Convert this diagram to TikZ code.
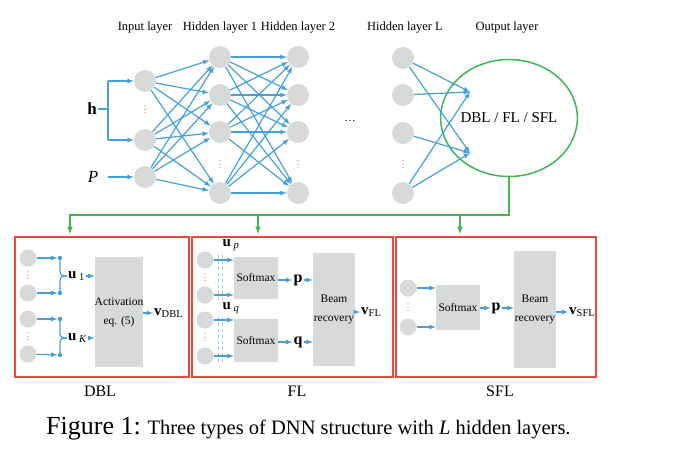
\documentclass[tikz,border=0pt]{standalone}
\usepackage{fontspec}
\setmainfont{Liberation Serif}
\usepackage{amsmath}
\usepackage{tikz}
\usetikzlibrary{arrows}
\usetikzlibrary{shapes.geometric}
\usetikzlibrary{positioning}
\definecolor{nnblue}{RGB}{72,160,218}
\definecolor{nnlight}{RGB}{150,200,236}
\definecolor{nngray}{RGB}{216,218,218}
\definecolor{nngreen}{RGB}{62,182,82}
\definecolor{nnred}{RGB}{236,72,58}
\newcommand{\fsz}[1]{\fontsize{#1}{#1}\selectfont}
\newcommand{\vdts}{\vbox{\baselineskip=3.6pt\lineskiplimit=0pt\hbox{.}\hbox{.}\hbox{.}}}
\tikzset{
  neuron/.style={circle, fill=nngray, minimum size=22pt, inner sep=0pt},
  small neuron/.style={circle, fill=nngray, minimum size=17pt, inner sep=0pt},
  joint/.style={circle, fill=nnblue, minimum size=4.5pt, inner sep=0pt},
  block/.style={rectangle, fill=nngray, inner sep=0pt, align=center, font=\fontsize{11.5}{19}\selectfont},
  frame/.style={rectangle, draw=nnred, line width=1.4pt, inner sep=0pt, minimum height=140pt},
  arr/.style={-latex, draw=nnblue, line width=1.2pt},
  bline/.style={draw=nnblue, line width=1.2pt},
  dline/.style={draw=nnlight, dashed, line width=1pt},
  gline/.style={draw=nngreen, line width=1.5pt},
  layer/.style={font=\fsz{12.5}, anchor=base},
  sym/.style={inner sep=1pt, font=\fsz{16}},
  vdot/.style={text=black!70, font=\fsz{8}, inner sep=0pt}
}
\begin{document}
\begin{tikzpicture}[x=1pt, y=-1pt]
\useasboundingbox (0,0) rectangle (678,448);

\node [layer] (lin) at (145,30) {Input layer};
\node [layer] (lh1) at (220,30) {Hidden layer 1};
\node [layer] (lh2) at (298,30) {Hidden layer 2};
\node [layer] (lhl) at (405,30) {Hidden layer L};
\node [layer] (lout) at (507,30) {Output layer};

\node [neuron] (i1) at (145,81) {};
\node [neuron] (i2) at (145,140) {};
\node [neuron] (i3) at (145,177) {};
\node [vdot] (idots) at (145,110) {\vdts};
\node [neuron] (a1) at (220,57) {};
\node [neuron] (a2) at (220,95) {};
\node [neuron] (a3) at (220,132) {};
\node [neuron] (a4) at (220,193) {};
\node [vdot] (adots) at (220,165) {\vdts};
\node [neuron] (b1) at (298,57) {};
\node [neuron] (b2) at (298,95) {};
\node [neuron] (b3) at (298,132) {};
\node [neuron] (b4) at (298,193) {};
\node [vdot] (bdots) at (298,165) {\vdts};
\node [neuron] (c1) at (403,58) {};
\node [neuron] (c2) at (403,95) {};
\node [neuron] (c3) at (403,133) {};
\node [neuron] (c4) at (403,193) {};
\node [vdot] (cdots) at (403,165) {\vdts};
\node [font=\fsz{11}] (hdots) at (350,121) {\ldots};
\node [ellipse, draw=nngreen, line width=1.5pt, minimum width=105pt, minimum height=117pt, inner sep=0pt, font=\fsz{15}] (out) at (509,118) {DBL / FL / SFL};
\coordinate (o1) at (470,92);
\coordinate (o2) at (470,153);

\node [sym, font=\fsz{17}] (h) at (92,109) {\textbf{h}};
\node [sym, font=\fsz{17}] (P) at (93,177) {\textit{P}};
\coordinate (hb1) at (108,81);
\coordinate (hb2) at (108,140);
\draw [bline] (h) -- (h -| hb1);
\draw [bline] (hb1) -- (hb2);
\draw [arr] (hb1) -- (i1);
\draw [arr] (hb2) -- (i2);
\draw [arr, shorten <=9pt] (P) -- (i3);

\foreach \s in {1,2,3} \foreach \t in {1,...,4} \draw [arr] (i\s) -- (a\t);
\foreach \s in {1,...,4} \foreach \t in {1,...,4} \draw [arr] (a\s) -- (b\t);
\foreach \s/\t in {1/1,1/2,2/1,3/2,4/1,4/2} \draw [arr] (c\s) -- (o\t);

\coordinate (gbar) at (0,215);
\coordinate (tdbl) at (70,234);
\coordinate (tfl) at (258,234);
\coordinate (tsfl) at (460,234);
\draw [gline, -latex] (out.south) -- (out.south |- gbar) -| (tdbl);
\draw [gline, -latex] (tfl |- gbar) -- (tfl);
\draw [gline, -latex] (tsfl |- gbar) -- (tsfl);

\node [frame, minimum width=174pt] (boxdbl) at (102,307) {};
\node [frame, minimum width=201pt] (boxfl) at (292.5,307) {};
\node [frame, minimum width=200pt] (boxsfl) at (496,307) {};
\node [font=\fsz{16}] (ldbl) at (100,391) {DBL};
\node [font=\fsz{16}] (lfl) at (297,391) {FL};
\node [font=\fsz{16}] (lsfl) at (500,391) {SFL};

\node [small neuron] (d1) at (28,258) {};
\node [small neuron] (d2) at (28,293) {};
\node [small neuron] (d3) at (28,319) {};
\node [small neuron] (d4) at (28,354) {};
\node [vdot] (ddots1) at (28,276) {\vdts};
\node [vdot] (ddots2) at (28,337) {\vdts};
\node [joint] (k1) at (60,258) {};
\node [joint] (k2) at (60,293) {};
\node [joint] (k3) at (60,319) {};
\node [joint] (k4) at (60,355) {};
\foreach \n in {1,...,4} \draw [arr] (d\n) -- (k\n);
\coordinate (j1) at (67,276);
\coordinate (j2) at (67,338);
\draw [bline, rounded corners=4pt] (k1.center) |- (j1);
\draw [bline, rounded corners=4pt] (k2.center) |- (j1);
\draw [bline, rounded corners=4pt] (k3.center) |- (j2);
\draw [bline, rounded corners=4pt] (k4.center) |- (j2);
\node [sym, anchor=west, font=\fsz{15}] (u1) at (j1) {\textbf{u}\,\textsubscript{1}};
\node [sym, anchor=west, font=\fsz{15}] (uK) at (j2) {\textbf{u}\,\textsubscript{\textit{K}}};
\node [block, minimum width=42pt, minimum height=110pt] (act) at (119,312) {Activation\\eq. (5)};
\draw [arr] (u1.east) -- (u1.east -| act.west);
\draw [arr] (uK.east) -- (uK.east -| act.west);
\node [sym, anchor=west, font=\fsz{15}] (vdbl) at (153,313) {\textbf{v}\textsubscript{DBL}};
\draw [arr] (act.east |- vdbl.west) -- (vdbl.west);

\node [small neuron] (f1) at (205,260) {};
\node [small neuron] (f2) at (205,295) {};
\node [small neuron] (f3) at (205,320) {};
\node [small neuron] (f4) at (205,356) {};
\node [vdot] (fdots1) at (205,278) {\vdts};
\node [vdot] (fdots2) at (205,338) {\vdts};
\draw [dline] (218,255) -- (218,300);
\draw [dline] (222,255) -- (222,300);
\draw [dline] (218,317) -- (218,362);
\draw [dline] (222,317) -- (222,362);
\node [block, minimum width=44pt, minimum height=42pt] (sm1) at (256,278) {Softmax};
\node [block, minimum width=44pt, minimum height=43pt] (sm2) at (256,340.5) {Softmax};
\draw [arr] (f1) -- (f1 -| sm1.west);
\draw [arr] (f2) -- (f2 -| sm1.west);
\draw [arr] (f3) -- (f3 -| sm2.west);
\draw [arr] (f4) -- (f4 -| sm2.west);
\node [sym, font=\fsz{15}] (up) at (231,245) {\textbf{u}\,\textsubscript{\textit{p}}};
\node [sym, font=\fsz{15}] (uq) at (231,308) {\textbf{u}\,\textsubscript{\textit{q}}};
\node [block, minimum width=42pt, minimum height=113pt] (beamfl) at (334,309.5) {Beam\\recovery};
\node [sym] (pfl) at (298,280) {\textbf{p}};
\node [sym] (qfl) at (298,342) {\textbf{q}};
\draw [arr] (sm1.east |- pfl) -- (pfl);
\draw [arr] (sm2.east |- qfl) -- (qfl);
\draw [arr] (pfl) -- (pfl -| beamfl.west);
\draw [arr] (qfl) -- (qfl -| beamfl.west);
\node [sym, anchor=west, font=\fsz{15}] (vfl) at (360,312) {\textbf{v}\textsubscript{FL}};
\draw [arr] (beamfl.east |- vfl.west) -- (vfl.west);

\node [small neuron] (s1) at (408,288) {};
\node [small neuron] (s2) at (408,327) {};
\node [vdot] (sdots) at (408,308) {\vdts};
\node [block, minimum width=44pt, minimum height=45pt] (sms) at (458,307.5) {Softmax};
\draw [arr] (s1) -- (s1 -| sms.west);
\draw [arr] (s2) -- (s2 -| sms.west);
\node [block, minimum width=42pt, minimum height=117pt] (beamsfl) at (535,309.5) {Beam\\recovery};
\node [sym] (psfl) at (496,308) {\textbf{p}};
\draw [arr] (sms.east |- psfl) -- (psfl);
\draw [arr] (psfl) -- (psfl -| beamsfl.west);
\node [sym, anchor=west, font=\fsz{15}] (vsfl) at (568,312) {\textbf{v}\textsubscript{SFL}};
\draw [arr] (beamsfl.east |- vsfl.west) -- (vsfl.west);

\node [anchor=base west, inner sep=0pt] (cap) at (46,434) {\fsz{26}Figure 1:\fsz{20.5} Three types of DNN structure with \textit{L} hidden layers.};
\end{tikzpicture}
\end{document}
